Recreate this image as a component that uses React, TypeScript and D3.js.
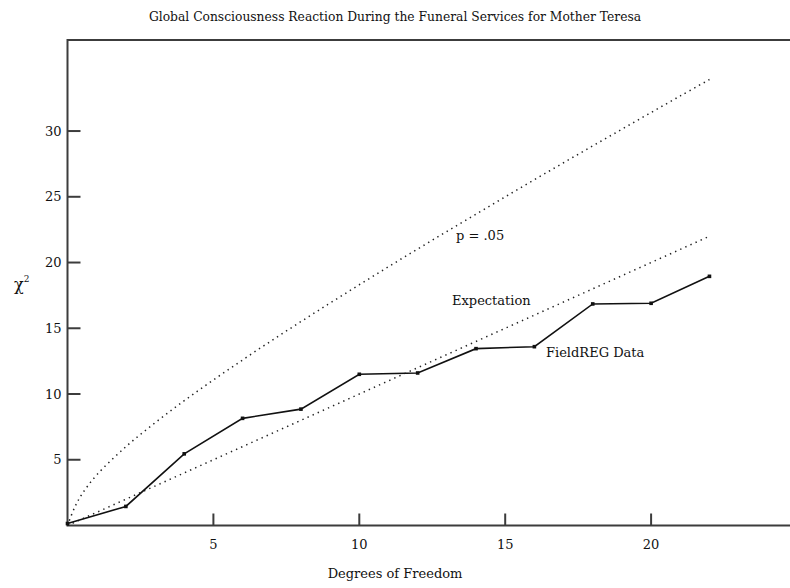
import React from "react";
import * as d3 from "d3";

const title = "Global Consciousness Reaction During the Funeral Services for Mother Teresa";
const xTicks = [5, 10, 15, 20];
const yTicks = [5, 10, 15, 20, 25, 30];

const fieldDf = [0, 2, 4, 6, 8, 10, 12, 14, 16, 18, 20, 22];
const fieldChi = [0.15, 1.45, 5.45, 8.15, 8.85, 11.5, 11.6, 13.45, 13.6, 16.85, 16.9, 18.95];

const expDf = [0, 22];
const expChi = [0, 22];

const critDf = [0, 0.25, 0.5, 1, 2, 3, 4, 5, 6, 7, 8, 9, 10, 11, 12, 13, 14, 15, 16, 17, 18, 19, 20, 21, 22];
const critChi = [0, 1.4, 2.4, 3.84, 5.99, 7.81, 9.49, 11.07, 12.59, 14.07, 15.51, 16.92, 18.31, 19.68, 21.03, 22.36, 23.68, 25.0, 26.3, 27.59, 28.87, 30.14, 31.41, 32.67, 33.92];

const W = 790;
const H = 588;
const FONT = "'DejaVu Serif', 'Liberation Serif', serif";

export default function App() {
  const x = d3.scaleLinear().domain([0, 25]).range([67.5, 797]);
  const y = d3.scaleLinear().domain([0, 37]).range([525.5, 39]);
  const left = x(0);
  const bottom = y(0);
  const top = 40;

  const line = d3
    .line<[number, number]>()
    .x((d) => x(d[0]))
    .y((d) => y(d[1]));
  const curve = d3
    .line<[number, number]>()
    .x((d) => x(d[0]))
    .y((d) => y(d[1]))
    .curve(d3.curveCatmullRom);

  const fieldPts: [number, number][] = fieldDf.map((d, i) => [d, fieldChi[i]]);
  const expPts: [number, number][] = expDf.map((d, i) => [d, expChi[i]]);
  const critPts: [number, number][] = critDf.map((d, i) => [d, critChi[i]]);

  const axisColor = "#3c3c3c";

  return (
    <>
      <style>{"body{margin:0}"}</style>
      <svg width={W} height={H} style={{ display: "block", background: "#fff" }}>
        <text x={395} y={21} textAnchor="middle" fontFamily={FONT} fontSize={12.3} fill="#111">
          {title}
        </text>

        {/* frame */}
        <path
          d={`M${W + 5},${top} H${left} V${bottom} H${W + 5}`}
          fill="none"
          stroke={axisColor}
          strokeWidth={2}
        />

        {/* y ticks */}
        {yTicks.map((t) => (
          <g key={"y" + t}>
            <line x1={left} x2={left + 13} y1={y(t)} y2={y(t)} stroke={axisColor} strokeWidth={2} />
            <text
              x={left - 6}
              y={y(t)}
              dy="0.36em"
              textAnchor="end"
              fontFamily={FONT}
              fontSize={13}
              fill="#111"
            >
              {t}
            </text>
          </g>
        ))}

        {/* x ticks */}
        {xTicks.map((t) => (
          <g key={"x" + t}>
            <line x1={x(t)} x2={x(t)} y1={bottom} y2={bottom - 12} stroke={axisColor} strokeWidth={2} />
            <text
              x={x(t)}
              y={bottom + 19}
              dy="0.36em"
              textAnchor="middle"
              fontFamily={FONT}
              fontSize={13}
              fill="#111"
            >
              {t}
            </text>
          </g>
        ))}

        <text x={395} y={578} textAnchor="middle" fontFamily={FONT} fontSize={13} fill="#111">
          Degrees of Freedom
        </text>

        <text x={14} y={290} fontFamily={FONT} fontSize={16} fill="#111">
          χ
          <tspan fontSize={9} dy={-8}>
            2
          </tspan>
        </text>

        {/* dotted lines */}
        <path
          d={curve(critPts) || ""}
          fill="none"
          stroke="#222"
          strokeWidth={1.5}
          strokeDasharray="1.4,4"
        />
        <path
          d={line(expPts) || ""}
          fill="none"
          stroke="#222"
          strokeWidth={1.5}
          strokeDasharray="1.4,4.2"
        />

        {/* data */}
        <path d={line(fieldPts) || ""} fill="none" stroke="#111" strokeWidth={1.6} />
        {fieldPts.map((p, i) => (
          <rect key={i} x={x(p[0]) - 1.8} y={y(p[1]) - 1.8} width={3.6} height={3.6} fill="#111" />
        ))}

        <text x={456} y={240} fontFamily={FONT} fontSize={13} fill="#111">
          p = .05
        </text>
        <text x={452} y={305} fontFamily={FONT} fontSize={13} fill="#111">
          Expectation
        </text>
        <text x={546} y={357} fontFamily={FONT} fontSize={13} fill="#111">
          FieldREG Data
        </text>
      </svg>
    </>
  );
}
